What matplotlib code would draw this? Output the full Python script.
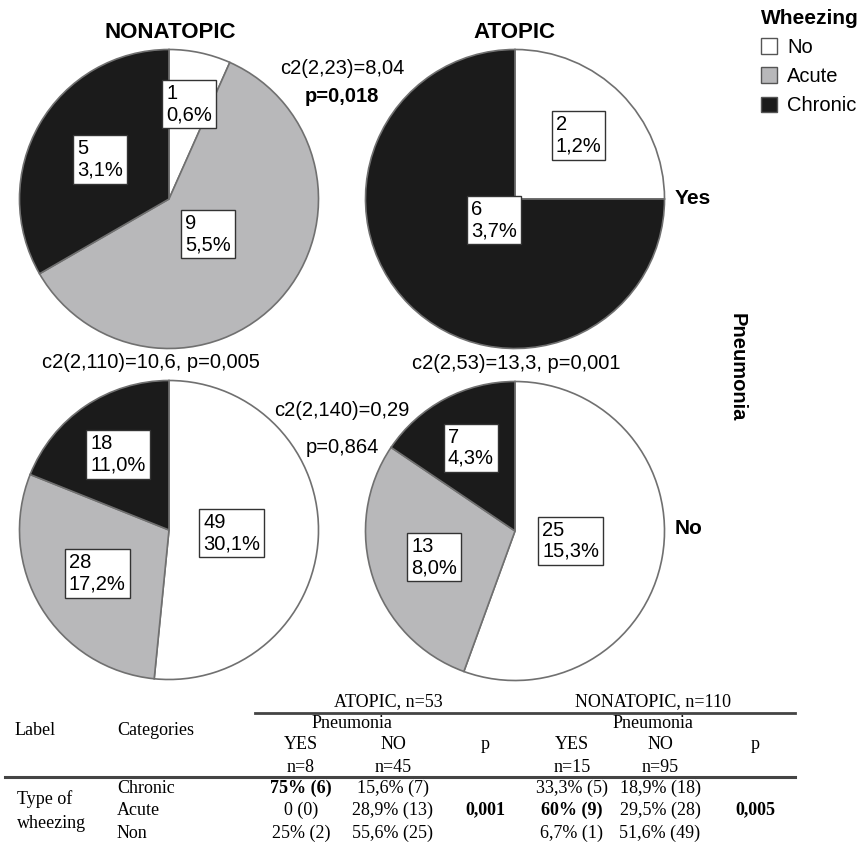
import numpy as np
import matplotlib.pyplot as plt
from matplotlib.patches import Patch
from matplotlib.lines import Line2D

plt.rcParams['font.family'] = ['Liberation Sans', 'DejaVu Sans']

W, H = 867, 847

# categorias de chiado e cores
categorias = ['No', 'Acute', 'Chronic']
cores = ['#ffffff', '#b8b8ba', '#1b1b1b']

# contagens por grupo (No, Acute, Chronic)
nonatopic_yes = [1, 9, 5]
atopic_yes = [2, 0, 6]
nonatopic_no = [49, 28, 18]
atopic_no = [25, 13, 7]
total = 163

# tabela
colunas = ['YES', 'NO', 'p', 'YES', 'NO', 'p']
n_colunas = ['n=8', 'n=45', '', 'n=15', 'n=95', '']
linhas = ['Chronic', 'Acute', 'Non']
atopic_sim = ['75% (6)', '0 (0)', '25% (2)']
atopic_nao = ['15,6% (7)', '28,9% (13)', '55,6% (25)']
atopic_p = ['', '0,001', '']
nonatopic_sim = ['33,3% (5)', '60% (9)', '6,7% (1)']
nonatopic_nao = ['18,9% (18)', '29,5% (28)', '51,6% (49)']
nonatopic_p = ['', '0,005', '']
negrito = {'75% (6)', '60% (9)', '0,001', '0,005'}

fig = plt.figure(figsize=(W / 100, H / 100), dpi=100)


def px(x, y):
    return x / W, 1 - y / H


def pizza(cx, cy, valores, dist, r=151):
    ax = fig.add_axes([(cx - r) / W, 1 - (cy + r) / H, 2 * r / W, 2 * r / H])
    wedges, _ = ax.pie(valores, colors=cores, startangle=90, counterclock=False,
                       wedgeprops=dict(edgecolor='#707070', linewidth=1.2))
    ax.set_xlim(-1.01, 1.01)
    ax.set_ylim(-1.01, 1.01)
    for w, v, d in zip(wedges, valores, dist):
        if v == 0:
            continue
        ang = np.deg2rad((w.theta1 + w.theta2) / 2)
        pct = f'{v / total * 100:.1f}'.replace('.', ',')
        ax.text(d * np.cos(ang), d * np.sin(ang), f'{v}\n{pct}%', ha='center', va='center',
                multialignment='left', fontsize=14.5, linespacing=1.15,
                bbox=dict(boxstyle='square,pad=0.2', fc='white', ec='#333333', lw=1))
    return ax


pizza(169, 199, nonatopic_yes, [0.65, 0.35, 0.53])
pizza(515, 199, atopic_yes, [0.6, 0, 0.2])
pizza(169, 530, nonatopic_no, [0.42, 0.56, 0.61])
pizza(515, 531, atopic_no, [0.38, 0.57, 0.63])

# titulos e textos
fig.text(*px(170, 33), 'NONATOPIC', ha='center', va='center', fontsize=16, weight='bold')
fig.text(*px(514, 33), 'ATOPIC', ha='center', va='center', fontsize=16, weight='bold')
fig.text(*px(342, 69), 'c2(2,23)=8,04', ha='center', va='center', fontsize=14.5)
fig.text(*px(342, 96), 'p=0,018', ha='center', va='center', fontsize=14.5, weight='bold')
fig.text(*px(675, 198), 'Yes', ha='left', va='center', fontsize=15, weight='bold')
fig.text(*px(675, 529), 'No', ha='left', va='center', fontsize=15, weight='bold')
fig.text(*px(737, 367), 'Pneumonia', ha='center', va='center', fontsize=14.5,
         weight='bold', rotation=-90)
fig.text(*px(151, 362), 'c2(2,110)=10,6, p=0,005', ha='center', va='center', fontsize=14.5)
fig.text(*px(516, 363), 'c2(2,53)=13,3, p=0,001', ha='center', va='center', fontsize=14.5)
fig.text(*px(342, 410), 'c2(2,140)=0,29', ha='center', va='center', fontsize=14.5)
fig.text(*px(342, 447), 'p=0,864', ha='center', va='center', fontsize=14.5)

# legenda
handles = [Patch(facecolor=c, edgecolor='#555555') for c in cores]
fig.legend(handles, categorias, title='Wheezing', loc='upper left',
           bbox_to_anchor=px(761, 9), frameon=False, alignment='left',
           title_fontproperties={'weight': 'bold', 'size': 15}, fontsize=14.5,
           handlelength=0.8, handleheight=0.8, handletextpad=0.5,
           borderpad=0, borderaxespad=0, labelspacing=0.5)

# tabela
serif = dict(family=['Liberation Serif', 'DejaVu Serif'], fontsize=13, va='center')
xcols = [301, 393, 485, 572, 660, 755]
fig.text(*px(388, 702), 'ATOPIC, n=53', ha='center', **serif)
fig.text(*px(653, 702), 'NONATOPIC, n=110', ha='center', **serif)
fig.add_artist(Line2D([255 / W, 795 / W], [1 - 713 / H] * 2, color='#444444', lw=2))
fig.text(*px(352, 723), 'Pneumonia', ha='center', **serif)
fig.text(*px(653, 723), 'Pneumonia', ha='center', **serif)
fig.text(*px(15, 730), 'Label', ha='left', **serif)
fig.text(*px(117, 730), 'Categories', ha='left', **serif)
for x, c, n in zip(xcols, colunas, n_colunas):
    fig.text(*px(x, 744), c, ha='center', **serif)
    if n:
        fig.text(*px(x, 767), n, ha='center', **serif)
fig.add_artist(Line2D([5 / W, 795 / W], [1 - 777 / H] * 2, color='#444444', lw=2.2))
fig.text(*px(17, 799), 'Type of', ha='left', **serif)
fig.text(*px(17, 823), 'wheezing', ha='left', **serif)
ylinhas = [788, 810, 833]
for i, (y, nome) in enumerate(zip(ylinhas, linhas)):
    fig.text(*px(117, y), nome, ha='left', **serif)
    valores = [atopic_sim[i], atopic_nao[i], atopic_p[i],
               nonatopic_sim[i], nonatopic_nao[i], nonatopic_p[i]]
    for x, v in zip(xcols, valores):
        if v:
            fig.text(*px(x, y), v, ha='center', weight='bold' if v in negrito else 'normal', **serif)

fig.savefig('out.png', dpi=100)
